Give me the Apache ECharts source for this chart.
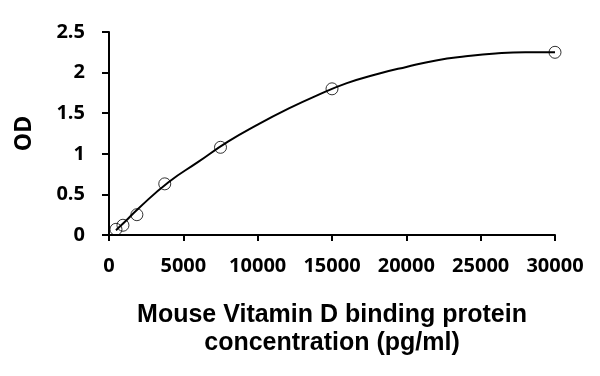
<!DOCTYPE html>
<html>
<head>
<meta charset="utf-8">
<script src="https://cdn.jsdelivr.net/npm/echarts@6/dist/echarts.min.js"></script>
<style>
  html, body { margin: 0; padding: 0; background: #fff; }
  #main { width: 600px; height: 376px; }
</style>
</head>
<body>
<div id="main"></div>
<script>
// standard points (pg/ml, OD)
var concentration = [469, 938, 1875, 3750, 7500, 15000, 30000];
var odValues = [0.07, 0.12, 0.25, 0.63, 1.08, 1.80, 2.25];

// trend curve
var curveX = [469, 1000, 2000, 4000, 6000, 8000, 10000, 12000, 14000, 16000, 18000, 20000, 22000, 24000, 26000, 28000, 30000];
var curveY = [0.06, 0.15, 0.33, 0.65, 0.9, 1.15, 1.36, 1.55, 1.72, 1.87, 1.98, 2.07, 2.15, 2.2, 2.235, 2.25, 2.25];

var xTicks = [0, 5000, 10000, 15000, 20000, 25000, 30000];
var yTicks = [0, 0.5, 1, 1.5, 2, 2.5];

var pts = [];
for (var i = 0; i < concentration.length; i++) {
  pts.push([concentration[i], odValues[i]]);
}
var curve = [];
for (var j = 0; j < curveX.length; j++) {
  curve.push([curveX[j], curveY[j]]);
}

var chart = echarts.init(document.getElementById('main'), null, { renderer: 'canvas' });

var labelFont = '"Open Sans", "Noto Sans", sans-serif';

var option = {
  backgroundColor: '#fff',
  animation: false,
  grid: {
    left: 109,
    right: 45,
    top: 32,
    bottom: 141
  },
  xAxis: {
    type: 'value',
    min: xTicks[0],
    max: xTicks[xTicks.length - 1],
    interval: 5000,
    name: 'Mouse Vitamin D binding protein\nconcentration (pg/ml)',
    nameLocation: 'middle',
    nameGap: 66,
    nameTextStyle: {
      color: '#000',
      fontFamily: '"Liberation Sans", Arial, sans-serif',
      fontWeight: 'bold',
      fontSize: 25,
      lineHeight: 28
    },
    axisLine: { show: true, lineStyle: { color: '#000', width: 2 } },
    axisTick: { show: true, length: 6, lineStyle: { color: '#000', width: 2 } },
    axisLabel: {
      color: '#000',
      fontFamily: labelFont,
      fontWeight: 'bold',
      fontSize: 20,
      margin: 21,
      formatter: function (v) { return String(v); }
    },
    splitLine: { show: false }
  },
  yAxis: {
    type: 'value',
    min: yTicks[0],
    max: yTicks[yTicks.length - 1],
    interval: 0.5,
    name: 'OD',
    nameLocation: 'middle',
    nameGap: 73,
    nameTextStyle: {
      color: '#000',
      fontFamily: labelFont,
      fontWeight: 'bold',
      fontSize: 23
    },
    axisLine: { show: true, lineStyle: { color: '#000', width: 2 } },
    axisTick: { show: true, length: 7, lineStyle: { color: '#000', width: 2 } },
    axisLabel: {
      color: '#000',
      fontFamily: labelFont,
      fontWeight: 'bold',
      fontSize: 20,
      margin: 24
    },
    splitLine: { show: false }
  },
  series: [
    {
      name: 'curve',
      type: 'line',
      data: curve,
      smooth: true,
      showSymbol: false,
      lineStyle: { color: '#000', width: 2 },
      z: 2
    },
    {
      name: 'standards',
      type: 'scatter',
      data: pts,
      symbol: 'circle',
      symbolSize: 12,
      itemStyle: {
        color: 'rgba(255,255,255,0)',
        borderColor: '#000',
        borderWidth: 1
      },
      z: 3
    }
  ]
};

chart.setOption(option);
</script>
</body>
</html>
